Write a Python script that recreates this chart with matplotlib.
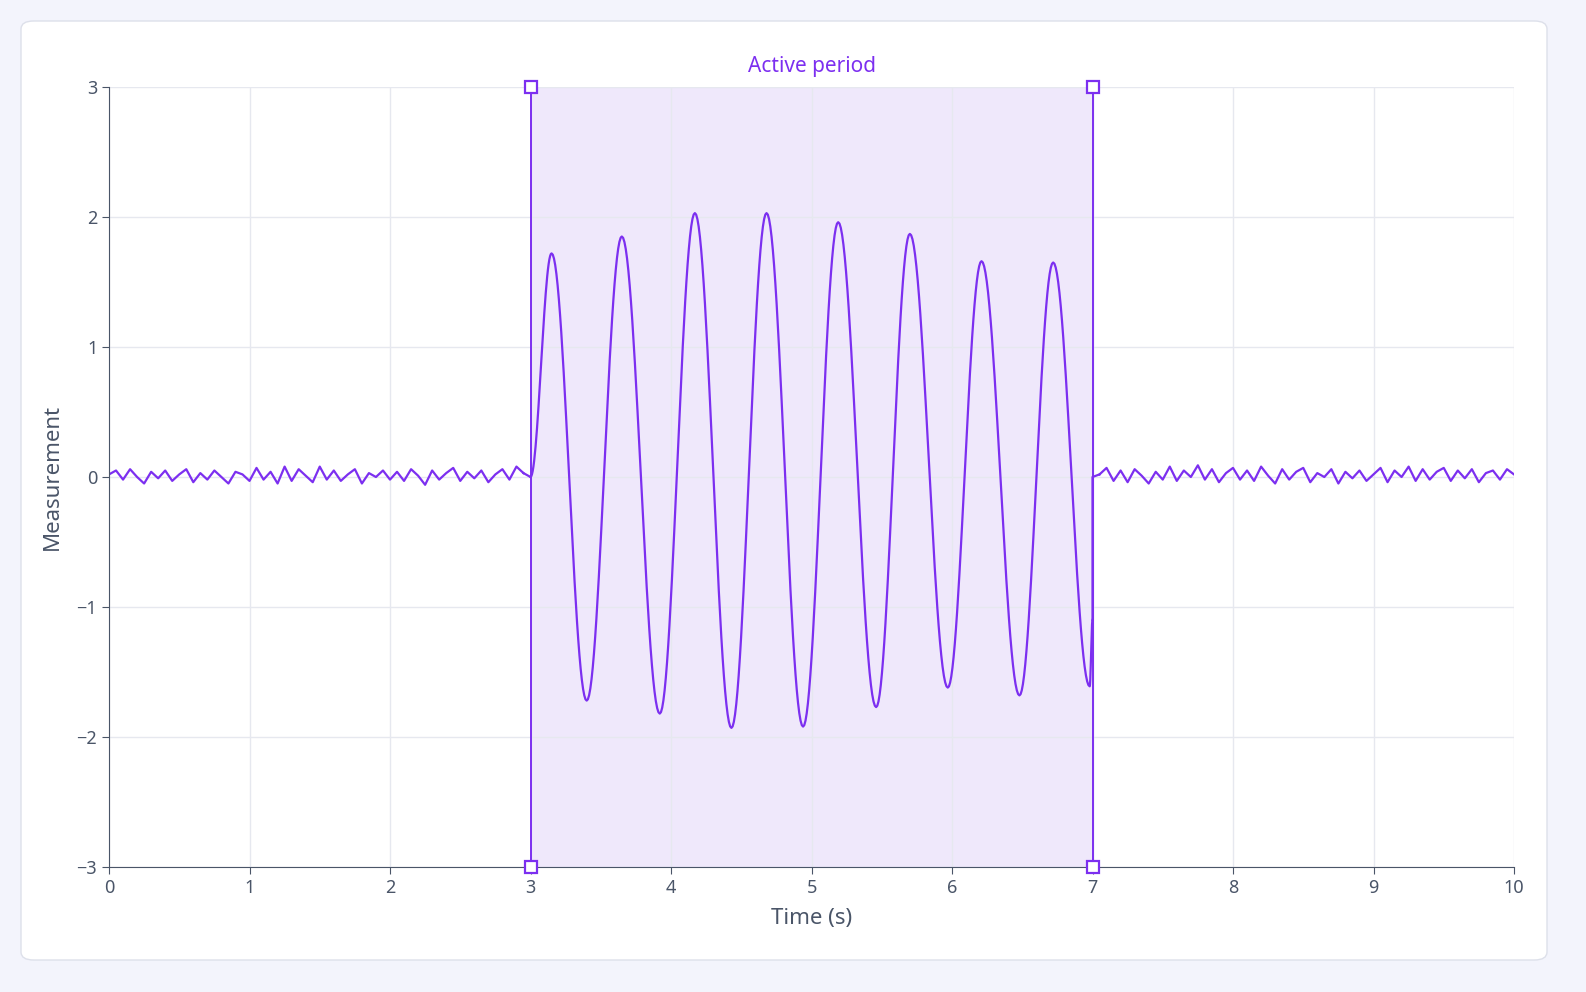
import numpy as np
import matplotlib
matplotlib.use("Agg")
import matplotlib.pyplot as plt
from matplotlib.patches import FancyBboxPatch

plt.rcParams['font.family'] = ['Noto Sans', 'DejaVu Sans']

# quiet-period noise (sampled every 0.05 s)
noise_pre = [0.02,0.05,-0.02,0.06,0.0,-0.05,0.04,-0.01,0.05,-0.03,0.02,0.06,-0.04,0.03,-0.02,0.05,0.0,-0.05,0.04,0.02,
             -0.03,0.07,-0.02,0.04,-0.05,0.08,-0.03,0.06,0.01,-0.04,0.08,-0.02,0.05,-0.03,0.02,0.06,-0.05,0.03,0.0,0.05,
             -0.02,0.04,-0.03,0.06,0.01,-0.06,0.05,-0.02,0.03,0.07,-0.03,0.04,-0.01,0.05,-0.04,0.02,0.06,-0.02,0.08,0.03]
noise_post = [0.02,0.07,-0.03,0.05,-0.04,0.06,0.01,-0.05,0.04,-0.02,0.08,-0.03,0.05,0.0,0.09,-0.02,0.06,-0.04,0.03,0.07,
              -0.02,0.05,-0.03,0.08,0.01,-0.05,0.06,-0.02,0.04,0.07,-0.04,0.03,0.0,0.06,-0.05,0.04,-0.01,0.05,-0.03,0.02,
              0.07,-0.04,0.05,0.0,0.08,-0.03,0.06,-0.02,0.04,0.07,-0.03,0.05,-0.01,0.06,-0.04,0.03,0.05,-0.02,0.06,0.02]
# oscillation extremes during the active period (time, value)
ext_t = [3.0, 3.15, 3.40, 3.65, 3.92, 4.17, 4.43, 4.68, 4.94, 5.19, 5.46, 5.70, 5.97, 6.21, 6.48, 6.72, 6.98, 7.0]
ext_v = [0.0, 1.72, -1.72, 1.85, -1.82, 2.03, -1.93, 2.03, -1.92, 1.96, -1.77, 1.87, -1.62, 1.66, -1.68, 1.65, -1.61, -1.1]

span = (3, 7)
xticks = list(range(0, 11))
yticks = [-3, -2, -1, 0, 1, 2, 3]

purple = '#7c2ff0'
fig = plt.figure(figsize=(15.86, 9.92), dpi=100)
fig.patch.set_facecolor('#f3f4fc')
card = FancyBboxPatch((21/1586, 1-960/992), 1526/1586, 939/992, boxstyle='round,pad=0,rounding_size=0.008',
                      transform=fig.transFigure, facecolor='white', edgecolor='#dde0ea', lw=1, zorder=-10)
fig.patches.append(card)
ax = fig.add_axes([109/1586, 1-867/992, 1405/1586, 780/992])
ax.set_zorder(5)
ax.set_facecolor('none')

t_pre = np.arange(len(noise_pre)) * 0.05
t_post = 7.0 + 0.05 + np.arange(len(noise_post)) * 0.05
ax.plot(t_pre, noise_pre, color=purple, lw=1.6)
ax.plot(t_post, noise_post, color=purple, lw=1.6)

# smooth half-cycles between consecutive extremes
xs, ys = [], []
for i in range(len(ext_t) - 1):
    t0, t1, v0, v1 = ext_t[i], ext_t[i+1], ext_v[i], ext_v[i+1]
    s = np.linspace(0, 1, 30)
    w = (1 - np.cos(np.pi * s)) / 2
    xs.extend(t0 + (t1 - t0) * s)
    ys.extend(v0 + (v1 - v0) * w)
ax.plot([t_pre[-1], 3.0], [noise_pre[-1], 0.0], color=purple, lw=1.6)
ax.plot(xs, ys, color=purple, lw=1.6)
ax.plot([7.0, 7.0, t_post[0]], [-1.1, 0.0, noise_post[0]], color=purple, lw=1.6)

ax.axvspan(*span, color='#ede5fb', alpha=0.85, zorder=0)
for x in span:
    ax.axvline(x, color=purple, lw=1.4)
    ax.plot([x, x], [-3, 3], 's', ms=8, mfc='white', mec=purple, mew=1.6, clip_on=False, zorder=5)
ax.text(5, 3.08, 'Active period', ha='center', va='bottom', color=purple, fontsize=15)

ax.set_xlim(0, 10); ax.set_ylim(-3, 3)
ax.set_xticks(xticks); ax.set_yticks(yticks)
ax.set_yticklabels([str(v).replace('-', '\u2212') for v in yticks])
ax.grid(True, color='#e6e8ef', lw=1)
ax.set_axisbelow(True)
for s in ['top', 'right']:
    ax.spines[s].set_visible(False)
for s in ['left', 'bottom']:
    ax.spines[s].set_color('#4a5568')
ax.tick_params(colors='#4a5568', labelsize=13, length=5, color='#4a5568')
ax.set_xlabel('Time (s)', fontsize=16, color='#4a5568', labelpad=8)
ax.set_ylabel('Measurement', fontsize=16, color='#4a5568', labelpad=10)
fig.savefig('out.png', dpi=100, facecolor=fig.get_facecolor())
